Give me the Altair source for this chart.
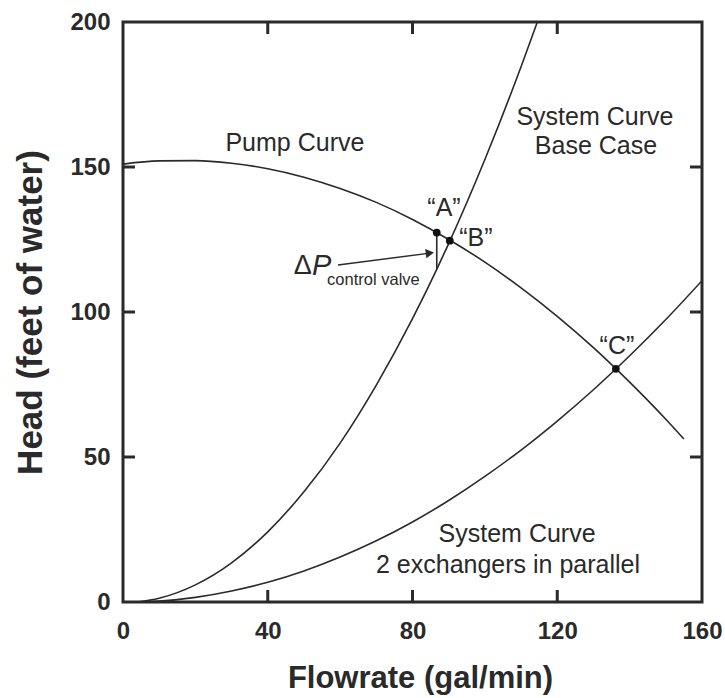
import altair as alt
import pandas as pd

# Pump curve: head (ft of water) vs flowrate (gal/min)
pump_flow = [0, 10, 20, 30, 40, 50, 60, 70, 80, 90, 100, 110, 120, 130, 140, 150, 155]
pump_head = [151.0, 152.1, 152.2, 151.3, 149.4, 146.5, 142.6, 137.8, 131.9, 125.0,
             117.2, 108.3, 98.5, 87.7, 75.8, 63.0, 56.2]

# System curve, base case
base_flow = [4, 10, 20, 30, 40, 50, 60, 70, 80, 86.7, 90, 100, 110, 114.5]
base_head = [0, 1.3, 5.9, 13.5, 24.2, 38.0, 54.8, 74.8, 97.7, 114.7, 123.6, 152.6, 184.6, 200]

# System curve, 2 exchangers in parallel
par_flow = [4, 10, 20, 30, 40, 50, 60, 70, 80, 90, 100, 110, 120, 130, 140, 150, 160]
par_head = [0, 0.3, 1.6, 3.8, 6.8, 10.7, 15.5, 21.1, 27.6, 35.0, 43.3, 52.4, 62.4,
            73.2, 84.9, 97.4, 110.8]

# Operating points
pt_names = ["A", "B", "C"]
pt_flow = [86.7, 90.3, 136.2]
pt_head = [127.4, 124.6, 80.4]

# Control-valve pressure drop: from point A down to the base-case curve
valve_flow = [86.7]
valve_top = [127.4]
valve_bottom = [114.7]

x_ticks = [0, 40, 80, 120, 160]
y_ticks = [0, 50, 100, 150, 200]
x_inner = [40, 80, 120]
y_inner = [50, 100, 150]

# Annotation labels
lab_text = ["Pump Curve", "System Curve", "Base Case", "\u201cA\u201d", "\u201cB\u201d",
            "\u201cC\u201d", "System Curve", "2 exchangers in parallel"]
lab_x = [47.5, 130.4, 130.7, 88.7, 97.5, 136.5, 108.9, 106.4]
lab_y = [158.3, 167.2, 157.2, 135.9, 125.5, 88.3, 23.4, 12.8]

# Delta-P callout and its arrow
arrow_x = [59.4, 84.8]
arrow_y = [116.2, 120.3]

FONT = "Liberation Sans"
INK = "#2a2a2a"

W, H = 579, 580
xs = alt.Scale(domain=[0, 160], nice=False, zero=False)
ys = alt.Scale(domain=[0, 200], nice=False, zero=False)

def curve(fx, fy):
    df = pd.DataFrame({"q": fx, "h": fy})
    return alt.Chart(df).mark_line(color=INK, strokeWidth=1.6, interpolate="monotone", clip=True).encode(
        x=alt.X("q:Q", scale=xs), y=alt.Y("h:Q", scale=ys))

axes_layer = alt.Chart(pd.DataFrame({"q": [0], "h": [0]})).mark_point(opacity=0).encode(
    x=alt.X("q:Q", scale=xs, title="Flowrate (gal/min)",
            axis=alt.Axis(values=x_ticks, ticks=False, domain=False, grid=False,
                          labelFont=FONT, labelFontWeight="bold", labelFontSize=24,
                          labelColor=INK, labelPadding=17, labelFlush=False,
                          titleFont=FONT, titleFontWeight="bold", titleFontSize=31,
                          titleColor=INK, titlePadding=20, titleX=297)),
    y=alt.Y("h:Q", scale=ys, title="Head (feet of water)",
            axis=alt.Axis(values=y_ticks, ticks=False, domain=False, grid=False,
                          labelFont=FONT, labelFontWeight="bold", labelFontSize=24,
                          labelColor=INK, labelPadding=13, labelFlush=False,
                          titleFont=FONT, titleFontWeight="bold", titleFontSize=35,
                          titleColor=INK, titlePadding=21)),
)

tick_len = 12
xt = pd.DataFrame({"q": x_inner})
yt = pd.DataFrame({"h": y_inner})
ticks_bottom = alt.Chart(xt).mark_rule(color=INK, strokeWidth=3).encode(
    x=alt.X("q:Q", scale=xs), y=alt.value(H), y2=alt.value(H - tick_len))
ticks_top = alt.Chart(xt).mark_rule(color=INK, strokeWidth=3).encode(
    x=alt.X("q:Q", scale=xs), y=alt.value(0), y2=alt.value(tick_len))
ticks_left = alt.Chart(yt).mark_rule(color=INK, strokeWidth=3).encode(
    y=alt.Y("h:Q", scale=ys), x=alt.value(0), x2=alt.value(tick_len))
ticks_right = alt.Chart(yt).mark_rule(color=INK, strokeWidth=3).encode(
    y=alt.Y("h:Q", scale=ys), x=alt.value(W), x2=alt.value(W - tick_len))

valve = alt.Chart(pd.DataFrame({"q": valve_flow, "top": valve_top, "bot": valve_bottom})).mark_rule(
    color=INK, strokeWidth=1.6).encode(
    x=alt.X("q:Q", scale=xs), y=alt.Y("top:Q", scale=ys), y2="bot:Q")

points = alt.Chart(pd.DataFrame({"name": pt_names, "q": pt_flow, "h": pt_head})).mark_circle(
    color="#111", opacity=1, size=60).encode(
    x=alt.X("q:Q", scale=xs), y=alt.Y("h:Q", scale=ys))

labels = alt.Chart(pd.DataFrame({"t": lab_text, "q": lab_x, "h": lab_y})).mark_text(
    font=FONT, fontSize=25, color=INK, align="center", baseline="middle").encode(
    x=alt.X("q:Q", scale=xs), y=alt.Y("h:Q", scale=ys), text="t:N")

arrow_df = pd.DataFrame({"q": arrow_x, "h": arrow_y})
arrow_line = alt.Chart(arrow_df).mark_line(color=INK, strokeWidth=1.4).encode(
    x=alt.X("q:Q", scale=xs), y=alt.Y("h:Q", scale=ys))
arrow_head = alt.Chart(arrow_df.iloc[[1]]).mark_point(
    shape="triangle-right", filled=True, color=INK, opacity=1, size=90, angle=352.6).encode(
    x=alt.X("q:Q", scale=xs), y=alt.Y("h:Q", scale=ys))

dp_df = pd.DataFrame({"q": [52.2], "h": [116.0]})
delta = alt.Chart(dp_df).mark_text(font=FONT, fontSize=27, color=INK, align="right",
                                   baseline="middle").encode(
    x=alt.X("q:Q", scale=xs), y=alt.Y("h:Q", scale=ys), text=alt.value("\u0394"))
pee = alt.Chart(dp_df).mark_text(font=FONT, fontSize=29, fontStyle="italic", color=INK,
                                 align="left", baseline="middle").encode(
    x=alt.X("q:Q", scale=xs), y=alt.Y("h:Q", scale=ys), text=alt.value("P"))
sub = alt.Chart(pd.DataFrame({"q": [56.4], "h": [111.2]})).mark_text(
    font=FONT, fontSize=16.5, color=INK, align="left", baseline="middle").encode(
    x=alt.X("q:Q", scale=xs), y=alt.Y("h:Q", scale=ys), text=alt.value("control valve"))

chart = alt.layer(
    axes_layer,
    curve(pump_flow, pump_head),
    curve(base_flow, base_head),
    curve(par_flow, par_head),
    valve, points, labels, arrow_line, arrow_head, delta, pee, sub,
    ticks_bottom, ticks_top, ticks_left, ticks_right,
).properties(
    width=W, height=H,
    autosize=alt.AutoSizeParams(type="none"),
    padding={"left": 123, "top": 22, "right": 23, "bottom": 96},
    background="white",
).configure_view(stroke=INK, strokeWidth=3)

chart.save("out.html", embed_options={"renderer": "svg", "actions": False})
